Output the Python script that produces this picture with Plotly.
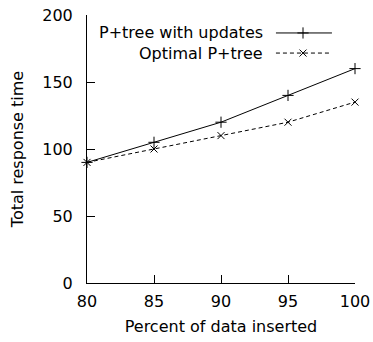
import plotly.graph_objects as go

# Percent of data inserted vs. total response time
percent_inserted = [80, 85, 90, 95, 100]
with_updates = [90, 105, 120, 140, 160]
optimal = [90, 100, 110, 120, 135]

series_names = ["P+tree with updates", "Optimal P+tree"]
x_ticks = [80, 85, 90, 95, 100]
y_ticks = [0, 50, 100, 150, 200]

FONT = dict(family="DejaVu Sans", size=16, color="black")

fig = go.Figure()

fig.add_trace(go.Scatter(
    x=percent_inserted, y=with_updates, mode="lines+markers",
    line=dict(color="black", width=1),
    marker=dict(symbol="cross-thin", size=8, line=dict(color="black", width=1)),
    showlegend=False, cliponaxis=False,
))
fig.add_trace(go.Scatter(
    x=percent_inserted, y=optimal, mode="lines+markers",
    line=dict(color="black", width=1, dash="4px,3px"),
    marker=dict(symbol="x-thin", size=7, line=dict(color="black", width=1)),
    showlegend=False, cliponaxis=False,
))

# Key drawn gnuplot-style: right-aligned label, sample line to its right
key_rows = [0.933, 0.858]
key_styles = [
    (dict(color="black", width=1), "cross-thin", 8),
    (dict(color="black", width=1, dash="4px,3px"), "x-thin", 7),
]
for name, ky, (ln, sym, sz) in zip(series_names, key_rows, key_styles):
    fig.add_trace(go.Scatter(
        x=[0.705, 0.914], y=[ky, ky], mode="lines", line=ln,
        xaxis="x2", yaxis="y2", showlegend=False, hoverinfo="skip",
    ))
    fig.add_trace(go.Scatter(
        x=[0.806], y=[ky], mode="markers",
        marker=dict(symbol=sym, size=sz, line=dict(color="black", width=1)),
        xaxis="x2", yaxis="y2", showlegend=False, hoverinfo="skip",
    ))
    fig.add_annotation(
        x=0.664, y=ky, xref="x2", yref="y2", text=name, showarrow=False,
        xanchor="right", yanchor="middle", font=FONT,
    )

fig.update_layout(
    width=373, height=342,
    margin=dict(l=87, r=18, t=15, b=59, autoexpand=False),
    paper_bgcolor="white", plot_bgcolor="white",
    font=FONT,
    xaxis=dict(
        range=[80, 100], tickvals=x_ticks, showgrid=False, zeroline=False,
        showline=True, linecolor="black", linewidth=1, automargin=False,
        ticks="inside", ticklen=8, tickcolor="black", tickwidth=1,
        ticklabelstandoff=4,
        title=dict(text="Percent of data inserted", font=FONT, standoff=10),
    ),
    yaxis=dict(
        range=[0, 200], tickvals=y_ticks, showgrid=False, zeroline=False,
        showline=True, linecolor="black", linewidth=1, automargin=False,
        ticks="inside", ticklen=8, tickcolor="black", tickwidth=1,
        ticklabelstandoff=10,
        title=dict(text="Total response time", font=FONT, standoff=14),
    ),
    xaxis2=dict(range=[0, 1], overlaying="x", visible=False, fixedrange=True),
    yaxis2=dict(range=[0, 1], overlaying="y", visible=False, fixedrange=True),
)

fig.write_html("out.html")
